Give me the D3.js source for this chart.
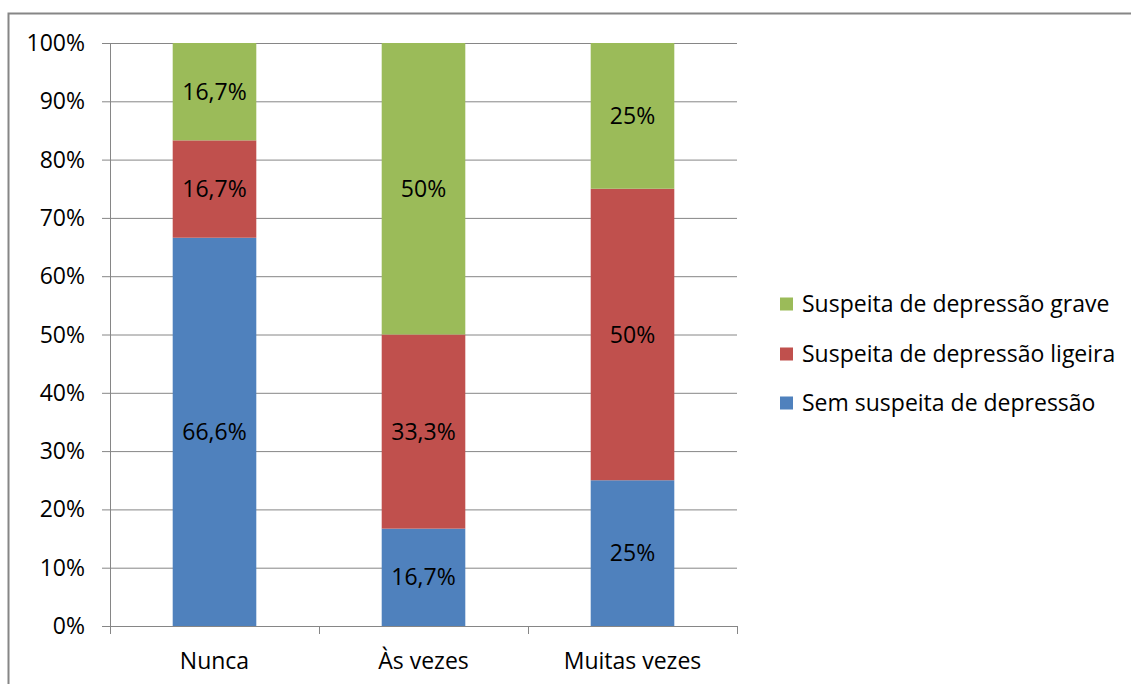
<!DOCTYPE html>
<html><head><meta charset="utf-8">
<script src="https://cdn.jsdelivr.net/npm/d3@7"></script>
<style>body{margin:0;background:#fff}svg{display:block}text{font-family:"Open Sans",Lato,sans-serif;fill:#000}</style>
</head><body>
<svg id="c" width="1131" height="684"></svg>
<script>
const categories = ["Nunca", "Às vezes", "Muitas vezes"];
const seriesNames = ["Sem suspeita de depressão", "Suspeita de depressão ligeira", "Suspeita de depressão grave"];
const semSuspeita = [66.6, 16.7, 25];
const ligeira = [16.7, 33.3, 50];
const grave = [16.7, 50, 25];
const semLabels = ["66,6%", "16,7%", "25%"];
const ligeiraLabels = ["16,7%", "33,3%", "50%"];
const graveLabels = ["16,7%", "50%", "25%"];
const yTicks = [0, 10, 20, 30, 40, 50, 60, 70, 80, 90, 100];
const colors = ["#4F81BD", "#C0504D", "#9BBB59"];
const FS = 23;

const svg = d3.select("#c");
svg.append("rect").attr("x", 8.5).attr("y", 13.5).attr("width", 1140).attr("height", 700)
  .attr("fill", "none").attr("stroke", "#868686").attr("stroke-width", 2);

const L = 110, R = 737, T = 43, B = 626;
const x = d3.scaleBand().domain(categories).range([L, R]).paddingInner(0.6).paddingOuter(0.3);
const xb = d3.scaleBand().domain(categories).range([L, R]);
const y = d3.scaleLinear().domain([0, 100]).range([B, T]);

const g = svg.append("g");
g.selectAll(".grid").data(yTicks).join("line")
  .attr("x1", L - 8).attr("x2", R).attr("y1", d => y(d) + 0.5).attr("y2", d => y(d) + 0.5)
  .attr("stroke", "#868686").attr("stroke-width", 1);
g.append("line").attr("x1", L + 0.5).attr("x2", L + 0.5).attr("y1", T).attr("y2", B).attr("stroke", "#868686");
const catTicks = categories.map(c => xb(c)).concat([R]);
g.selectAll(".ct").data(catTicks).join("line")
  .attr("x1", d => d + 0.5).attr("x2", d => d + 0.5).attr("y1", B).attr("y2", B + 8).attr("stroke", "#868686");

g.selectAll(".yl").data(yTicks).join("text")
  .attr("x", 85).attr("y", d => y(d)).attr("dy", "0.35em").attr("text-anchor", "end")
  .attr("font-size", FS).text(d => d + "%");
g.selectAll(".xl").data(categories).join("text")
  .attr("x", d => xb(d) + xb.bandwidth() / 2).attr("y", 661).attr("dy", "0.35em").attr("text-anchor", "middle")
  .attr("font-size", FS).text(d => d);

const table = categories.map((c, i) => ({cat: c, s0: semSuspeita[i], s1: ligeira[i], s2: grave[i]}));
const stack = d3.stack().keys(["s0", "s1", "s2"])(table);
const labels = [semLabels, ligeiraLabels, graveLabels];
stack.forEach((layer, k) => {
  g.selectAll(".b" + k).data(layer).join("rect")
    .attr("x", d => x(d.data.cat)).attr("width", x.bandwidth())
    .attr("y", d => y(Math.min(d[1], 100))).attr("height", d => y(d[0]) - y(Math.min(d[1], 100)))
    .attr("fill", colors[k]);
  g.selectAll(".t" + k).data(layer).join("text")
    .attr("x", d => x(d.data.cat) + x.bandwidth() / 2)
    .attr("y", d => y((d[0] + Math.min(d[1], 100)) / 2)).attr("dy", "0.35em")
    .attr("text-anchor", "middle").attr("font-size", FS)
    .text((d, i) => labels[k][i]);
});

const legendOrder = [2, 1, 0];
const ly = [304, 354, 403];
legendOrder.forEach((k, j) => {
  g.append("rect").attr("x", 780).attr("y", ly[j] - 6.5).attr("width", 13).attr("height", 13).attr("fill", colors[k]);
  g.append("text").attr("x", 802).attr("y", ly[j]).attr("dy", "0.35em").attr("font-size", FS).text(seriesNames[k]);
});
</script>
</body></html>
